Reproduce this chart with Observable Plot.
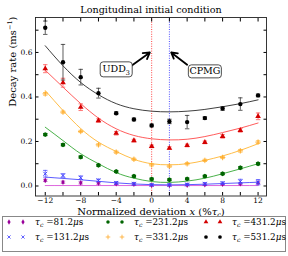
<!DOCTYPE html>
<html><head><meta charset="utf-8">
<script src="https://cdn.jsdelivr.net/npm/d3@7"></script>
<script src="https://cdn.jsdelivr.net/npm/@observablehq/plot@0.6"></script>
<style>
body{margin:0;background:#fff;font-family:"DejaVu Serif",serif;color:#000}
#wrap{width:288px;height:256px;position:relative;overflow:hidden;background:#fff}
#title{height:16px;width:288px;font-size:9.6px;line-height:19px;text-align:center;padding-left:14px;box-sizing:border-box;white-space:nowrap}
#chart svg{display:block}
#legend{position:absolute;left:2px;top:216px;width:284px;height:36px;box-sizing:border-box;border:1px solid #888;background:#fff}
.item{position:absolute;height:14px;display:flex;align-items:center;font-size:8.8px;white-space:nowrap}
.item svg{display:block}
.item .txt{margin-left:4px}
sub{font-size:6.2px;vertical-align:-2px}
</style></head>
<body><div id="wrap"><div id="title">Longitudinal initial condition</div><div id="chart"></div><div id="legend"></div></div>
<script>
// ---- data ----
const deviation = [-12, -10, -8, -6, -4, -2, 0, 2, 4, 6, 8, 10, 12];
const tauValues = ["81.2", "131.2", "231.2", "331.2", "431.2", "531.2"];

const rate81  = [0.025, 0.017, 0.014, 0.013, 0.010, 0.008, 0.003, 0.003, 0.004, 0.006, 0.008, 0.010, 0.014];
const err81   = [0.005, 0.005, 0.005, 0.005, 0.004, 0.004, 0.003, 0.003, 0.003, 0.004, 0.004, 0.005, 0.005];
const fit81   = [0.002, 0.002, 0.002, 0.002, 0.002, 0.002, 0.002, 0.002, 0.002, 0.002, 0.002, 0.002, 0.002];

const rate131 = [0.055, 0.047, 0.037, 0.025, 0.014, 0.010, 0.005, 0.005, 0.007, 0.010, 0.013, 0.020, 0.017];
const err131  = [0.015, 0.008, 0.008, 0.006, 0.005, 0.005, 0.004, 0.004, 0.004, 0.005, 0.005, 0.010, 0.012];
const fit131  = [0.040, 0.034, 0.028, 0.021, 0.014, 0.009, 0.006, 0.005, 0.006, 0.008, 0.011, 0.014, 0.017];

const rate231 = [0.231, 0.185, 0.130, 0.093, 0.065, 0.044, 0.031, 0.028, 0.032, 0.044, 0.055, 0.082, 0.100];
const err231  = [0.005, 0.005, 0.005, 0.004, 0.004, 0.004, 0.004, 0.004, 0.004, 0.004, 0.004, 0.005, 0.005];
const fit231  = [0.264, 0.204, 0.145, 0.100, 0.060, 0.035, 0.020, 0.016, 0.022, 0.035, 0.055, 0.077, 0.100];

const rate331 = [0.414, 0.332, 0.245, 0.185, 0.152, 0.120, 0.095, 0.089, 0.100, 0.115, 0.128, 0.158, 0.197];
const err331  = [0.006, 0.005, 0.005, 0.005, 0.005, 0.005, 0.005, 0.005, 0.005, 0.005, 0.005, 0.006, 0.006];
const fit331  = [0.429, 0.339, 0.258, 0.197, 0.155, 0.120, 0.100, 0.095, 0.100, 0.115, 0.135, 0.160, 0.190];

const rate431 = [0.527, 0.464, 0.354, 0.294, 0.237, 0.204, 0.178, 0.170, 0.182, 0.196, 0.223, 0.250, 0.313];
const err431  = [0.018, 0.020, 0.015, 0.008, 0.008, 0.006, 0.006, 0.006, 0.006, 0.006, 0.008, 0.008, 0.015];
const fit431  = [0.520, 0.444, 0.370, 0.305, 0.257, 0.227, 0.212, 0.207, 0.210, 0.222, 0.240, 0.260, 0.283];

const rate531 = [0.711, 0.556, 0.489, 0.417, 0.327, 0.299, 0.272, 0.290, 0.287, 0.305, 0.348, 0.368, 0.407];
const err531  = [0.030, 0.080, 0.035, 0.022, 0.006, 0.006, 0.006, 0.010, 0.030, 0.006, 0.008, 0.028, 0.006];
const fit531  = [0.630, 0.540, 0.465, 0.410, 0.370, 0.347, 0.336, 0.333, 0.336, 0.344, 0.356, 0.370, 0.387];

const xTicks = [-12, -8, -4, 0, 4, 8, 12];
const xMinorTicks = [-10, -6, -2, 2, 6, 10];
const yTicks = [0.0, 0.2, 0.4, 0.6];
const yMinorTicks = [0.1, 0.3, 0.5, 0.7];

const markerLines = [0, 2];               // UDD (red) and CPMG (blue) positions
const annotationLabels = ["UDD3", "CPMG"];
const annotationTextX = [-4.0, 6.0];
const annotationTextY = [0.524, 0.515];
const annotationTailX = [-2.2, 4.0];
const annotationTailY = [0.542, 0.545];
const annotationTipX = [-0.2, 2.2];
const annotationTipY = [0.600, 0.600];

// ---- styles ----
const thinDiamond = {draw(c){c.moveTo(0,-2.8);c.lineTo(1.6,0);c.lineTo(0,2.8);c.lineTo(-1.6,0);c.closePath();}};
const capSym = {draw(c){c.moveTo(-2.2,0);c.lineTo(2.2,0);}};
const styles = [
  {mark: "#990099", curve: "#d957d9", err: "#bb44bb", symbol: thinDiamond, filled: true,  r: 2.0},
  {mark: "#3a3aff", curve: "#4a4aff", err: "#5555ff", symbol: "times",     filled: false, r: 1.9},
  {mark: "#006400", curve: "#35a835", err: "#2a8a2a", symbol: "hexagon",   filled: true,  r: 2.1},
  {mark: "#ffaa2a", curve: "#ffb533", err: "#ffb533", symbol: "plus",      filled: false, r: 1.9},
  {mark: "#d40000", curve: "#ff4a4a", err: "#ff5555", symbol: "triangle",  filled: true,  r: 2.1},
  {mark: "#000000", curve: "#2a2a2a", err: "#333333", symbol: "circle",    filled: true,  r: 2.2}
];

const rates = [rate81, rate131, rate231, rate331, rate431, rate531];
const errs = [err81, err131, err231, err331, err431, err531];
const fits = [fit81, fit131, fit231, fit331, fit431, fit531];

const marks = [
  Plot.ruleX([markerLines[0]], {stroke: "#ff3030", strokeDasharray: "1,1.4", strokeWidth: 0.9}),
  Plot.ruleX([markerLines[1]], {stroke: "#3a3aff", strokeDasharray: "1,1.4", strokeWidth: 0.9})
];
styles.forEach((s, k) => {
  const pts = deviation.map((x, i) => ({x, y: rates[k][i], lo: rates[k][i] - errs[k][i], hi: rates[k][i] + errs[k][i]}));
  const fit = deviation.map((x, i) => ({x, y: fits[k][i]}));
  marks.push(Plot.line(fit, {x: "x", y: "y", stroke: s.curve, strokeWidth: 0.9, curve: "natural"}));
  marks.push(Plot.ruleX(pts, {x: "x", y1: "lo", y2: "hi", stroke: s.err, strokeWidth: 0.8}));
  marks.push(Plot.dot(pts, {x: "x", y: "lo", symbol: capSym, stroke: s.err, strokeWidth: 0.8, fill: "none"}));
  marks.push(Plot.dot(pts, {x: "x", y: "hi", symbol: capSym, stroke: s.err, strokeWidth: 0.8, fill: "none"}));
  marks.push(Plot.dot(pts, s.filled
    ? {x: "x", y: "y", symbol: s.symbol, r: s.r, fill: s.mark, stroke: "none"}
    : {x: "x", y: "y", symbol: s.symbol, r: s.r, fill: "none", stroke: s.mark, strokeWidth: 0.9}));
});

const ann = annotationLabels.map((t, i) => ({t, x: annotationTextX[i], y: annotationTextY[i],
  x1: annotationTailX[i], y1: annotationTailY[i], x2: annotationTipX[i], y2: annotationTipY[i]}));
const boxSym = (w, h, r) => ({draw(c){const x0=-w/2,y0=-h/2;c.moveTo(x0+r,y0);c.lineTo(x0+w-r,y0);c.arcTo(x0+w,y0,x0+w,y0+r,r);c.lineTo(x0+w,y0+h-r);c.arcTo(x0+w,y0+h,x0+w-r,y0+h,r);c.lineTo(x0+r,y0+h);c.arcTo(x0,y0+h,x0,y0+h-r,r);c.lineTo(x0,y0+r);c.arcTo(x0,y0,x0+r,y0,r);c.closePath();}});
marks.push(Plot.arrow(ann, {x1: "x1", y1: "y1", x2: "x2", y2: "y2", stroke: "black", strokeWidth: 1.8, headLength: 6, bend: 0}));
marks.push(Plot.dot([ann[0]], {x: "x", y: "y", symbol: boxSym(32, 15, 3), fill: "white", stroke: "#222", strokeWidth: 0.8}));
marks.push(Plot.dot([ann[1]], {x: "x", y: "y", symbol: boxSym(33, 13, 3), fill: "white", stroke: "#222", strokeWidth: 0.8}));
marks.push(Plot.text(ann, {x: "x", y: "y", text: "t", fontSize: 9.5, fill: "black"}));

// axes
const noLabel = () => "";
marks.push(Plot.axisX(xTicks.concat(xMinorTicks), {anchor: "bottom", tickSize: -3.5, tickFormat: noLabel, label: null}));
marks.push(Plot.axisX(xTicks.concat(xMinorTicks), {anchor: "top", tickSize: -3.5, tickFormat: noLabel, label: null}));
marks.push(Plot.axisX(xTicks, {anchor: "bottom", tickSize: 0, tickPadding: 2, label: null, tickFormat: d => d < 0 ? "\u2212" + (-d) : String(d)}));
marks.push(Plot.axisY(yTicks.concat(yMinorTicks), {anchor: "left", tickSize: -3.5, tickFormat: noLabel, label: null}));
marks.push(Plot.axisY(yTicks.concat(yMinorTicks), {anchor: "right", tickSize: -3.5, tickFormat: noLabel, label: null}));
marks.push(Plot.axisY(yTicks, {anchor: "left", tickSize: 0, tickPadding: 3, label: null, tickFormat: d => d.toFixed(1)}));
marks.push(Plot.frame({stroke: "#222", strokeWidth: 0.9}));
marks.push(Plot.text(["Decay rate (ms-1)"], {frameAnchor: "left", rotate: -90, dx: -23, fontSize: 10, fill: "black"}));
marks.push(Plot.text(["Normalized deviation x (%tc)"], {frameAnchor: "bottom", lineAnchor: "middle", dy: 15.5, fontSize: 10, fill: "black"}));

const chart = Plot.plot({
  width: 288, height: 200,
  marginLeft: 35, marginRight: 22, marginTop: 1, marginBottom: 20.5,
  x: {domain: [-13.1, 12.95]},
  y: {domain: [-0.045, 0.757]},
  style: {fontFamily: "DejaVu Serif", fontSize: "7.5px", background: "white", color: "black", overflow: "visible"},
  marks
});
document.getElementById("chart").appendChild(chart);

// rich text (sub/superscripts, italics)
d3.select(chart).selectAll("text").each(function() {
  const t = this.textContent;
  if (t === "Decay rate (ms-1)") {
    this.innerHTML = 'Decay rate (ms<tspan dy="-4" font-size="6.5">\u22121</tspan><tspan dy="4">)</tspan>';
  } else if (t === "Normalized deviation x (%tc)") {
    this.innerHTML = 'Normalized deviation <tspan font-style="italic">x</tspan> (%<tspan font-style="italic">\u03c4</tspan><tspan font-style="italic" font-size="6.5" dy="2">c</tspan><tspan dy="-2">)</tspan>';
  } else if (t === "UDD3") {
    this.innerHTML = 'UDD<tspan font-size="6.5" dy="2.5">3</tspan>';
  }
});

// legend
const legend = document.getElementById("legend");
const colX = [0, 99, 197], rowY = [5, 20];
tauValues.forEach((tau, k) => {
  const s = styles[k];
  const col = Math.floor(k / 2), row = k % 2;
  const item = document.createElement("div");
  item.className = "item";
  item.style.left = colX[col] + "px";
  item.style.top = (rowY[row] - 7) + "px";
  const symType = typeof s.symbol === "string" ? {circle: d3.symbolCircle, times: d3.symbolTimes, hexagon: d3.symbolCircle, plus: d3.symbolPlus, triangle: d3.symbolTriangle}[s.symbol] : s.symbol;
  const path = d3.symbol(symType, Math.PI * s.r * s.r * 0.7)();
  const paint = s.filled ? `fill="${s.mark}" stroke="none"` : `fill="none" stroke="${s.mark}" stroke-width="0.8"`;
  item.innerHTML = `<svg width="28" height="14"><path transform="translate(6,7)" d="${path}" ${paint}/><path transform="translate(20,7)" d="${path}" ${paint}/></svg>` +
    `<span class="txt"><i>\u03c4</i><sub><i>c</i></sub> =${tau}<i>\u03bc</i>s</span>`;
  legend.appendChild(item);
});
</script></body></html>
